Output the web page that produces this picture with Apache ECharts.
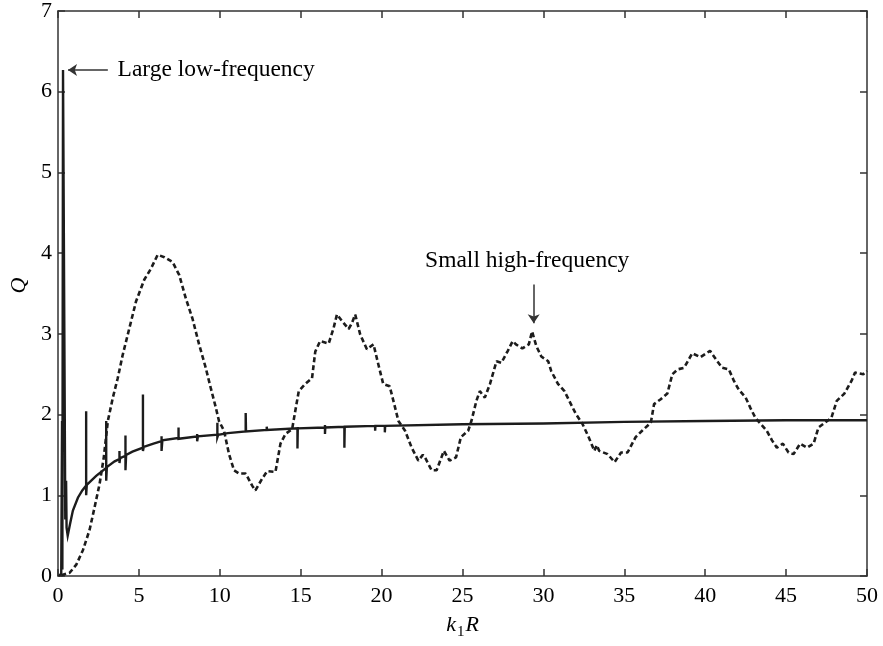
<!DOCTYPE html>
<html>
<head>
<meta charset="utf-8">
<script src="https://cdn.jsdelivr.net/npm/echarts@6/dist/echarts.min.js"></script>
<style>
html,body{margin:0;padding:0;background:#fff;}
#chart{width:883px;height:646px;}
</style>
</head>
<body>
<div id="chart"></div>
<script>
// x tick labels and y tick labels
var xTicks = [0, 5, 10, 15, 20, 25, 30, 35, 40, 45, 50];
var yTicks = [0, 1, 2, 3, 4, 5, 6, 7];

// Solid curve (with narrow resonance spikes) : [k1R, Q]
var solidCurve = [
  [0.05,0.0],[0.2,0.03],[0.25,1.92],[0.27,0.08],[0.3,0.1],[0.31,6.27],[0.42,6.27],[0.45,0.7],[0.5,1.18],[0.53,0.6],
  [0.6,0.5],[0.75,0.65],[0.92,0.81],[1.23,0.97],[1.5,1.06],[1.74,1.12],[1.74,2.04],[1.74,1.0],[1.78,1.13],
  [2.36,1.24],[2.98,1.34],[2.98,1.92],[2.98,1.18],[3.02,1.35],[3.5,1.42],[3.8,1.45],[3.8,1.55],[3.8,1.4],[3.84,1.46],
  [4.17,1.49],[4.17,1.74],[4.17,1.31],[4.21,1.5],[4.6,1.54],[5.25,1.59],[5.25,2.25],[5.25,1.55],[5.3,1.6],
  [5.9,1.64],[6.4,1.67],[6.4,1.73],[6.4,1.55],[6.45,1.68],[7.45,1.71],[7.45,1.84],[7.45,1.7],[7.5,1.71],
  [8.6,1.73],[8.6,1.76],[8.6,1.67],[8.65,1.73],[9.85,1.75],[9.85,1.9],[9.85,1.72],[9.9,1.75],
  [10.5,1.77],[11.6,1.79],[11.6,2.02],[11.62,1.79],[12.9,1.81],[12.9,1.85],[12.92,1.81],
  [14.8,1.83],[14.8,1.58],[14.82,1.83],[16.5,1.84],[16.5,1.87],[16.5,1.76],[16.52,1.84],
  [17.7,1.85],[17.7,1.59],[17.72,1.85],[19.6,1.86],[19.6,1.80],[19.62,1.86],[20.2,1.86],[20.2,1.78],[20.22,1.86],
  [25,1.88],[30,1.89],[35,1.91],[40,1.92],[45,1.93],[50,1.93]
];

// Dashed curve : [k1R, Q]
var dashedCurve = [
  [0.2,0.01],[0.72,0.04],[1.13,0.14],[1.54,0.32],[1.95,0.57],[2.26,0.85],[2.57,1.14],[2.83,1.47],[3.08,1.92],
  [3.39,2.21],[3.69,2.45],[4.0,2.74],[4.41,3.07],[4.82,3.40],[5.33,3.67],[5.75,3.81],[6.16,3.98],[6.57,3.95],
  [7.08,3.89],[7.49,3.73],[7.9,3.44],[8.31,3.19],[8.72,2.87],[9.13,2.58],[9.44,2.33],[9.75,2.09],[9.95,1.92],
  [10.26,1.80],[10.57,1.51],[10.88,1.31],[11.19,1.27],[11.6,1.27],[12.0,1.12],[12.2,1.06],[12.6,1.2],[12.93,1.3],
  [13.44,1.29],[13.75,1.64],[14.06,1.76],[14.47,1.82],[14.67,2.05],[14.88,2.29],[15.29,2.38],[15.7,2.45],
  [15.9,2.78],[16.2,2.91],[16.73,2.88],[17.03,3.07],[17.24,3.24],[17.55,3.16],[17.96,3.06],[18.16,3.13],
  [18.37,3.24],[18.68,2.99],[19.09,2.81],[19.5,2.87],[19.8,2.62],[20.1,2.38],[20.5,2.35],[20.73,2.17],
  [21.04,1.92],[21.45,1.80],[21.86,1.59],[22.27,1.43],[22.55,1.5],[22.68,1.47],[23.09,1.31],[23.4,1.31],
  [23.7,1.47],[23.85,1.55],[24.2,1.43],[24.6,1.47],[24.9,1.72],[25.35,1.80],[25.55,1.92],[25.86,2.17],
  [26.07,2.29],[26.38,2.21],[26.7,2.38],[27.1,2.66],[27.4,2.64],[27.8,2.79],[28.1,2.91],[28.3,2.87],
  [28.7,2.82],[29.1,2.87],[29.3,3.03],[29.56,2.85],[29.87,2.72],[30.3,2.66],[30.48,2.54],[30.9,2.38],
  [31.3,2.29],[31.6,2.17],[32.0,2.01],[32.4,1.89],[32.8,1.72],[33.15,1.55],[33.3,1.62],[33.45,1.55],
  [33.97,1.51],[34.4,1.41],[34.8,1.53],[35.2,1.53],[35.7,1.72],[36.1,1.80],[36.64,1.90],[36.84,2.13],
  [37.25,2.19],[37.66,2.26],[37.97,2.50],[38.3,2.56],[38.7,2.58],[39.2,2.76],[39.7,2.71],[40.3,2.79],
  [40.75,2.66],[41.05,2.58],[41.46,2.56],[41.77,2.42],[42.07,2.31],[42.5,2.21],[42.8,2.08],[43.1,1.96],
  [43.4,1.89],[43.8,1.80],[44.13,1.68],[44.43,1.59],[44.8,1.64],[45.15,1.53],[45.46,1.51],[45.87,1.64],
  [46.3,1.59],[46.7,1.64],[47.0,1.84],[47.4,1.90],[47.8,1.96],[48.13,2.17],[48.6,2.26],[49.05,2.42],
  [49.26,2.52],[49.77,2.50],[50,2.54]
];

// Annotation texts and their anchor points / arrows
var annotationTexts = ['Large low-frequency', 'Small high-frequency'];
var annotationAnchors = [[3.68, 6.27], [29.0, 3.91]];
var arrowStarts = [[3.08, 6.27], [29.4, 3.61]];
var arrowEnds = [[0.62, 6.27], [29.4, 3.13]];

var FONT = "'Liberation Serif', 'DejaVu Serif', 'Times New Roman', serif";
var AX = '#333';

function axisCommon(showLabel) {
  return {
    axisLine: {show: true, onZero: false, lineStyle: {color: AX, width: 1.5}},
    axisTick: {show: true, inside: true, length: 7, lineStyle: {color: AX, width: 1.5}},
    splitLine: {show: false},
    axisLabel: {show: showLabel, fontFamily: FONT, fontSize: 22, color: '#000'}
  };
}

var chart = echarts.init(document.getElementById('chart'), null, {renderer: 'canvas'});

var xBottom = Object.assign({type: 'value', min: xTicks[0], max: xTicks[xTicks.length-1], interval: xTicks[1]-xTicks[0], position: 'bottom',
  name: '{i|k}{s|1}{i|R}', nameLocation: 'middle', nameGap: 38,
  nameTextStyle: {rich: {
    i: {fontFamily: FONT, fontStyle: 'italic', fontSize: 22, color: '#000', lineHeight: 26, verticalAlign: 'top'},
    s: {fontFamily: FONT, fontSize: 15, color: '#000', lineHeight: 26, verticalAlign: 'bottom', padding: [12, 1, 0, 1]}
  }}
}, axisCommon(true));
xBottom.axisLabel.margin = 9;
var xTop = Object.assign({type: 'value', min: xTicks[0], max: xTicks[xTicks.length-1], interval: xTicks[1]-xTicks[0], position: 'top'}, axisCommon(false));

var yLeft = Object.assign({type: 'value', min: yTicks[0], max: yTicks[yTicks.length-1], interval: 1, position: 'left',
  name: 'Q', nameLocation: 'middle', nameGap: 28,
  nameTextStyle: {fontFamily: FONT, fontStyle: 'italic', fontSize: 22, color: '#000', padding: [0, 0, 0, 16]}
}, axisCommon(true));
yLeft.axisLabel.margin = 6;
var yRight = Object.assign({type: 'value', min: yTicks[0], max: yTicks[yTicks.length-1], interval: 1, position: 'right'}, axisCommon(false));

var annData = annotationTexts.map(function (t, i) {
  return {value: annotationAnchors[i], label: {formatter: t, position: i === 0 ? 'right' : 'inside', distance: 0}};
});

var option = {
  backgroundColor: '#fff',
  animation: false,
  grid: {left: 55, right: 16, top: 8, bottom: 70, containLabel: false},
  xAxis: [xBottom, xTop],
  yAxis: [yLeft, yRight],
  series: [
    {
      type: 'line', name: 'solid', data: solidCurve, xAxisIndex: 0, yAxisIndex: 0,
      showSymbol: false, symbol: 'none',
      lineStyle: {color: '#1c1c1c', width: 2.4, type: 'solid', join: 'miter'}
    },
    {
      type: 'line', name: 'dashed', data: dashedCurve, xAxisIndex: 0, yAxisIndex: 0,
      showSymbol: false, symbol: 'none', smooth: false,
      lineStyle: {color: '#1c1c1c', width: 2.6, type: [5, 3]}
    },
    {
      type: 'scatter', name: 'annotations', data: annData, xAxisIndex: 0, yAxisIndex: 0,
      symbolSize: 0, silent: true,
      itemStyle: {color: '#000', opacity: 1},
      label: {show: true, fontFamily: FONT, fontSize: 23.5, color: '#000'},
      markLine: {
        silent: true, symbol: ['none', 'arrow'], symbolSize: 9,
        itemStyle: {color: '#333', opacity: 1},
        lineStyle: {color: '#333', width: 1.5, type: 'solid', opacity: 1},
        label: {show: false},
        data: arrowStarts.map(function (s, i) { return [{coord: s}, {coord: arrowEnds[i]}]; })
      }
    }
  ]
};
chart.setOption(option);
</script>
</body>
</html>
